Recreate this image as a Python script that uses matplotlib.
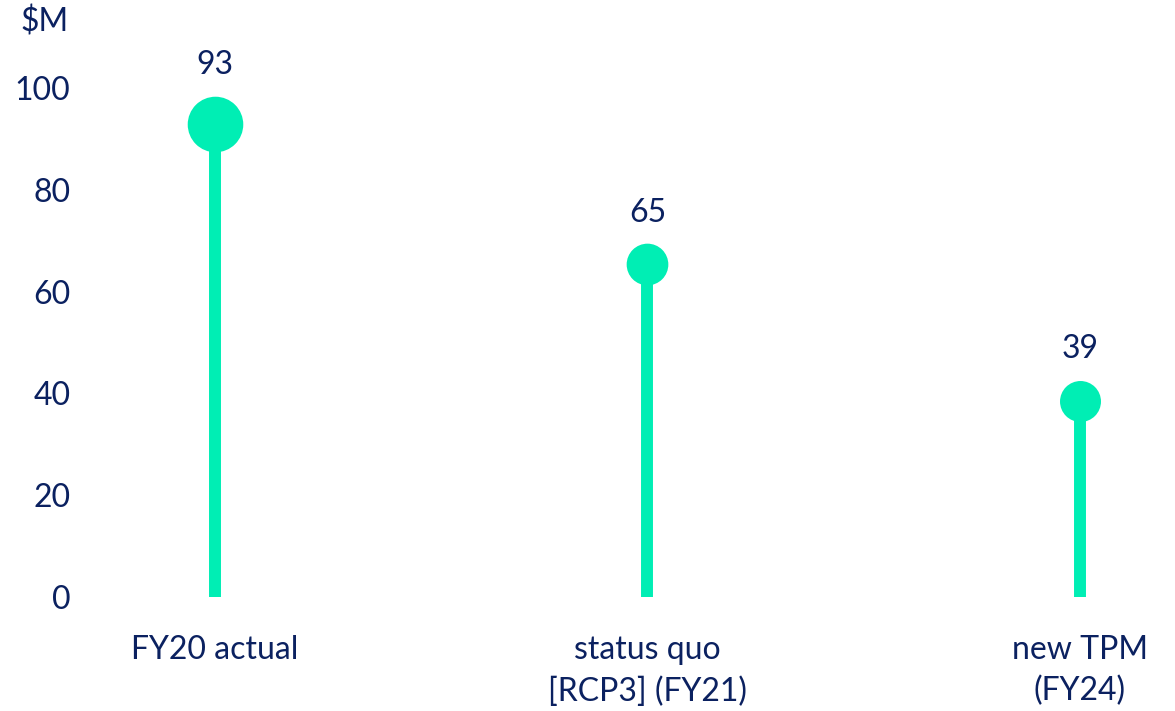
import matplotlib.pyplot as plt

# data
categories = ['FY20 actual', 'status quo\n[RCP3] (FY21)', 'new TPM\n(FY24)']
values = [93, 65.4, 38.6]
yticks = [0, 20, 40, 60, 80, 100]

# style
green = '#00EEB4'
navy = '#0B2160'
marker_pt = [40, 30, 29.5]  # marker diameters differ per point in the original
fs = 23
plt.rcParams['font.family'] = ['Lato', 'DejaVu Sans']

fig = plt.figure(figsize=(11.75, 7.11), dpi=100)
W, H = 1175, 711
# axes: x 90..1165 px, y 88 (100) .. 597 (0) px
ax = fig.add_axes([90 / W, 1 - 597 / H, (1165 - 90) / W, (597 - 88) / H])

x = list(range(len(categories)))
ax.vlines(x, 0, values, color=green, linewidth=8.6, capstyle='butt', zorder=2)
for xi, v, ms in zip(x, values, marker_pt):
    ax.plot(xi, v, 'o', ms=ms, color=green, mec='none', clip_on=False, zorder=3)
    ax.annotate(f'{v:.0f}', (xi, v), xytext=(0, ms / 2 + 22), textcoords='offset points',
                ha='center', va='center', fontsize=fs, color=navy)

ax.set_xlim(-0.289, 2.197)
ax.set_ylim(0, 100)
ax.set_xticks(x)
ax.set_xticklabels(categories, fontsize=fs, color=navy, linespacing=1.45)
ax.set_yticks(yticks)
ax.set_yticklabels([str(t) for t in yticks], fontsize=fs, color=navy)
ax.tick_params(axis='both', length=0)
ax.tick_params(axis='x', pad=27.5)
ax.tick_params(axis='y', pad=14)
for s in ax.spines.values():
    s.set_visible(False)

fig.text(45 / W, 1 - 22 / H, '$M', fontsize=fs, color=navy, ha='center', va='center')

fig.savefig('out.png', dpi=100)
